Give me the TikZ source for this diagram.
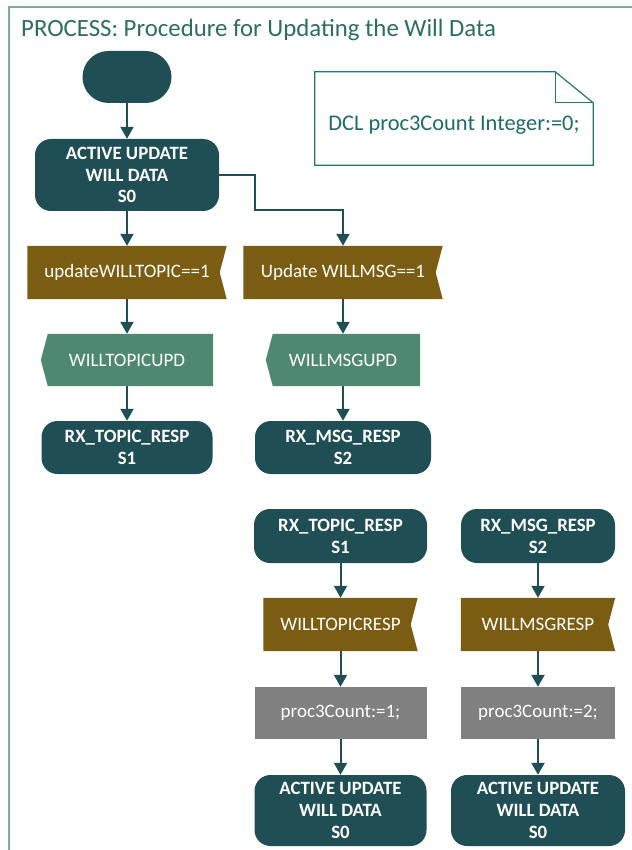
\documentclass[tikz,border=0pt]{standalone}
\usepackage{fontspec}
\setmainfont{Carlito}
\usetikzlibrary{arrows.meta,shapes.misc,backgrounds}

\definecolor{stateteal}{RGB}{31,79,85}
\definecolor{inputgold}{RGB}{122,92,18}
\definecolor{outputgreen}{RGB}{78,136,112}
\definecolor{taskgrey}{RGB}{128,128,128}
\definecolor{flowline}{RGB}{31,79,85}
\definecolor{framegreen}{RGB}{125,172,154}
\definecolor{titlegreen}{RGB}{44,110,96}
\definecolor{noteteal}{RGB}{36,118,112}
\definecolor{notetext}{RGB}{28,108,104}

\tikzset{
  boxtext/.style={text=white, font=\fontsize{19}{22}\selectfont, inner sep=0pt, align=center},
  statebox/.style={boxtext, font=\bfseries\fontsize{18.8}{21.8}\selectfont, fill=stateteal, rounded corners=16pt},
  startbox/.style={rounded rectangle, fill=stateteal, inner sep=0pt, minimum width=89pt, minimum height=52pt},
  signalbox/.style={boxtext, minimum height=53pt},
  taskbox/.style={boxtext, fill=taskgrey, minimum height=52pt},
  flow/.style={draw=flowline, line width=2pt, -{Triangle[length=12pt,width=13pt]}},
  notebox/.style={text=notetext, font=\fontsize{22.4}{25}\selectfont, inner sep=0pt},
}

% SDL input (notched right side) and output (pointed left side) outlines
\newcommand\sdlinput[1]{\fill[inputgold] (#1.north west) -- (#1.north east) -- ([xshift=-7pt]#1.east) -- (#1.south east) -- (#1.south west) -- cycle;}
\newcommand\sdloutput[1]{\fill[outputgreen] ([xshift=7pt]#1.north west) -- (#1.north east) -- (#1.south east) -- ([xshift=7pt]#1.south west) -- (#1.west) -- cycle;}

\begin{document}
\begin{tikzpicture}[x=1pt,y=-1pt]
\useasboundingbox (0,0) rectangle (631,850);

% outer frame
\draw[framegreen, line width=2pt] (9,852) -- (9,7) -- (633,7);
\node[anchor=base west, text=titlegreen, font=\fontsize{24.8}{28}\selectfont, inner sep=0pt] (title) at (21,37) {PROCESS: Procedure for Updating the Will Data};

% declaration note with folded corner
\node[minimum width=278pt, minimum height=93pt, inner sep=0pt] (note) at (454,118.5) {};
\node[notebox] (notetxt) at (454,125) {DCL proc3Count Integer:=0;};
\draw[noteteal, line width=1.2pt] (note.north west) -- ([xshift=-38pt]note.north east) -- ([yshift=-31pt]note.north east) -- (note.south east) -- (note.south west) -- cycle;
\draw[noteteal, line width=1.2pt] ([xshift=-38pt]note.north east) -- ([xshift=-38pt,yshift=-31pt]note.north east) -- ([yshift=-31pt]note.north east);

% first part: start and the two update branches
\node[startbox] (start) at (127,77) {};
\node[statebox, minimum width=184pt, minimum height=72pt] (s0) at (127,175) {ACTIVE UPDATE\\WILL DATA\\S0};
\node[signalbox, minimum width=199pt] (in1) at (127,272.5) {updateWILLTOPIC==1};
\node[signalbox, minimum width=199pt] (in2) at (343,272.5) {Update WILLMSG==1};
\node[signalbox, minimum width=172pt, minimum height=52pt] (out1) at (127,360) {WILLTOPICUPD};
\node[signalbox, minimum width=154pt, minimum height=52pt] (out2) at (343,360) {WILLMSGUPD};
\node[statebox, minimum width=171pt, minimum height=53pt] (st1) at (127,447.5) {RX\_TOPIC\_RESP\\S1};
\node[statebox, minimum width=176pt, minimum height=53pt] (st2) at (343,447.5) {RX\_MSG\_RESP\\S2};

% second part: the two response states
\node[statebox, minimum width=173pt, minimum height=54pt] (st3) at (340.5,536) {RX\_TOPIC\_RESP\\S1};
\node[statebox, minimum width=154pt, minimum height=54pt] (st4) at (538,536) {RX\_MSG\_RESP\\S2};
\node[signalbox, minimum width=154pt] (in3) at (340.5,624.5) {WILLTOPICRESP};
\node[signalbox, minimum width=154pt] (in4) at (538,624.5) {WILLMSGRESP};
\node[taskbox, minimum width=172pt] (t1) at (340.5,713) {proc3Count:=1;};
\node[taskbox, minimum width=154pt] (t2) at (538,713) {proc3Count:=2;};
\node[statebox, minimum width=172pt, minimum height=71pt] (s0b) at (340.5,810.5) {ACTIVE UPDATE\\WILL DATA\\S0};
\node[statebox, minimum width=174pt, minimum height=71pt] (s0c) at (538,810.5) {ACTIVE UPDATE\\WILL DATA\\S0};

\begin{scope}[on background layer]
  \sdlinput{in1}
  \sdlinput{in2}
  \sdlinput{in3}
  \sdlinput{in4}
  \sdloutput{out1}
  \sdloutput{out2}
\end{scope}

% connectors
\coordinate (bend) at (255,210);
\draw[flow] (start) -- (s0);
\draw[flow] (s0) -- (in1);
\draw[flow] (s0.east) -| (bend) -| (in2.north);
\draw[flow] (in1) -- (out1);
\draw[flow] (out1) -- (st1);
\draw[flow] (in2) -- (out2);
\draw[flow] (out2) -- (st2);
\draw[flow] (st3) -- (in3);
\draw[flow] (in3) -- (t1);
\draw[flow] (t1) -- (s0b);
\draw[flow] (st4) -- (in4);
\draw[flow] (in4) -- (t2);
\draw[flow] (t2) -- (s0c);
\end{tikzpicture}
\end{document}
